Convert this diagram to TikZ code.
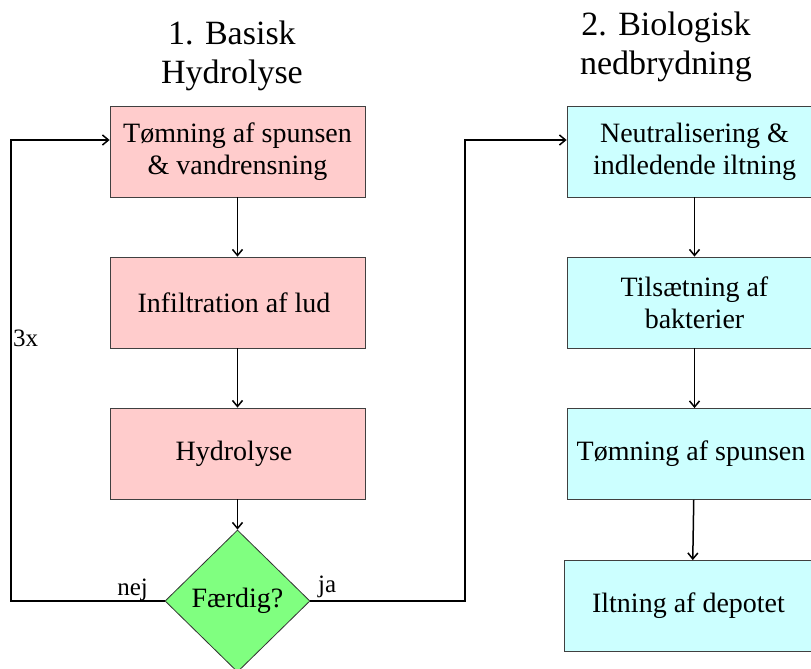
\documentclass[tikz,border=0pt]{standalone}
\usepackage{fontspec}
\setmainfont{Liberation Serif}[Ligatures=TeX]
\usetikzlibrary{shapes.geometric,arrows.meta}
\definecolor{hydpink}{RGB}{255,204,204}
\definecolor{biocyan}{RGB}{204,255,255}
\definecolor{okgreen}{RGB}{128,255,128}
\begin{document}
\begin{tikzpicture}[x=1pt, y=-1pt,
    stage/.style={draw=black!75, line width=0.8pt, minimum width=255pt, minimum height=91pt,
        align=center, font=\rmfamily\fontsize{28}{32}\selectfont},
    title/.style={align=center, font=\rmfamily\fontsize{34}{39}\selectfont},
    lbl/.style={inner sep=0pt, font=\rmfamily\fontsize{25}{28}\selectfont},
    flow/.style={-{Straight Barb[length=6pt,width=10pt]}, line width=1.5pt}]
    \useasboundingbox (0,0) rectangle (811,669);
    \clip (0,0) rectangle (811,669);

    \node[title] (t1) at (232, 56) { 1. Basisk\\Hydrolyse };
    \node[title] (t2) at (666, 47) { 2. Biologisk\\nedbrydning };

    \node[stage, fill=hydpink] (h1) at (237.5, 151.5) { Tømning af spunsen\\\& vandrensning };
    \node[stage, fill=hydpink] (h2) at (237.5, 302.5) { Infiltration af lud };
    \node[stage, fill=hydpink] (h3) at (237.5, 453.5) { Hydrolyse };
    \node[draw=black!80, line width=0.8pt, diamond, fill=okgreen, inner sep=0pt,
        minimum width=145pt, minimum height=142pt, font=\rmfamily\fontsize{28}{32}\selectfont] (fd) at (237.5, 601) { Færdig? };

    \node[stage, fill=biocyan] (b1) at (694.5, 151.5) { Neutralisering \&\\indledende iltning };
    \node[stage, fill=biocyan] (b2) at (694.5, 302.5) { Tilsætning af\\bakterier };
    \node[stage, fill=biocyan] (b3) at (694.5, 454) { Tømning af spunsen };
    \node[stage, fill=biocyan] (b4) at (692, 606) { Iltning af depotet };

    \coordinate (nejc) at (11, 601);
    \coordinate (jac) at (465, 601);

    \draw[flow] (h1) -- (h2);
    \draw[flow] (h2) -- (h3);
    \draw[flow] (h3) -- (fd);
    \draw[flow] (fd.west) -- (nejc) |- ([yshift=11.5pt]h1.west);
    \draw[flow] (fd.east) -- (jac) |- ([yshift=11.5pt]b1.west);
    \draw[flow] (b1) -- (b2);
    \draw[flow] (b2) -- (b3);
    \draw[flow] (b3) -- (b4);

    \node[lbl, anchor=base west] (rep) at (13, 346) { 3x };
    \node[lbl, anchor=base east] (nej) at (148, 595) { nej };
    \node[lbl, anchor=base west] (ja) at (318, 592) { ja };
\end{tikzpicture}
\end{document}
